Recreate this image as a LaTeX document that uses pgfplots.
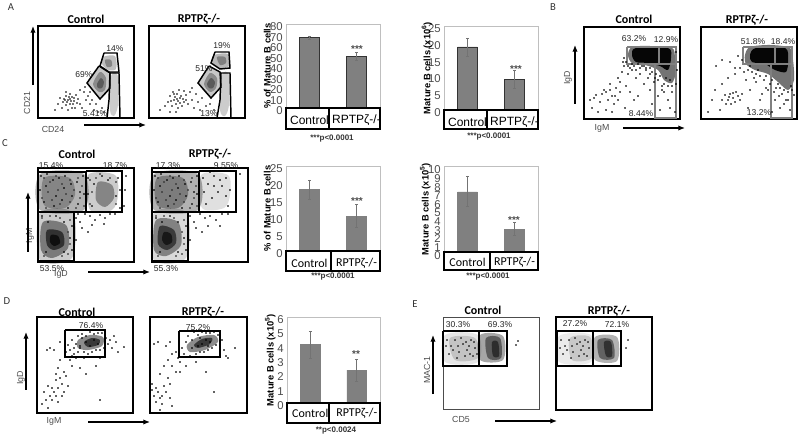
\documentclass[border=0pt]{standalone}
\usepackage{fontspec}
\setmainfont{Liberation Sans}
\newfontfamily\carl{Carlito}
\usepackage{pgfplots}
\pgfplotsset{compat=1.18}
\usetikzlibrary{arrows.meta}
\definecolor{lab}{gray}{0.3}
\definecolor{barc}{gray}{0.5}
% flow panels: axis units are the pixels of the picture
\pgfplotsset{
  facs/.style n args={4}{x=0.75pt,y=0.75pt,at={(#1*0.75pt,-#4*0.75pt)},anchor=south west,
    xmin=#1,xmax=#3,ymin=#2,ymax=#4,y dir=reverse,ticks=none,clip=false},
  dots/.style={only marks,mark=*,mark size=0.38pt,mark options={draw=none,fill=#1},forget plot},
  dots/.default=black,
  blob/.style={fill=black,fill opacity=#1,draw=none,forget plot,/tikz/smooth cycle},
  gate/.style={draw=black,line width=1.1pt,mark=none,forget plot},
  ggate/.style={draw=black!50,line width=0.9pt,mark=none,forget plot},
  barax/.style n args={5}{scale only axis,width={(#3-#1)*0.75pt},height={(#4-#2)*0.75pt},
    at={(#1*0.75pt,-#4*0.75pt)},anchor=south west,xmin=-0.5,xmax=1.5,ymin=0,ymax=#5,
    xtick={0,1},xticklabels={Control,RPTPζ-/-},major tick length=0pt,
    axis line style={black!25,line width=0.6pt},
    /pgf/number format/assume math mode=true,
    yticklabel style={font=\fontsize{8.5}{9}\selectfont,text=lab,yshift=-2pt,xshift=1pt},
    ylabel style={font=\bfseries\fontsize{7}{8}\selectfont,anchor=center}},
  bar/.style={ybar,bar width=14.7pt,fill=barc,draw=#1,
    error bars/.cd,y dir=both,y explicit,error bar style={black!55,line width=0.5pt},
    error mark options={rotate=90,mark size=1pt,black!55}},
}
\begin{document}
\begin{tikzpicture}
\useasboundingbox (0,0) rectangle (600pt,-328.5pt);

% ---- A flow
\begin{axis}[facs={38}{26}{134}{118},axis line style={line width=0.9pt}]
\addplot[dots=black!40] coordinates {(60,98)(63,102)(66,96)(68,100)(70,104)(72,97)(66,105)(62,108)(74,101)(76,95)(78,99)(70,94)(80,104)(84,92)(86,100)(82,108)(75,108)(58,104)(55,110)(90,104)(94,110)(88,96)(66,92)(72,108)(68,110)(64,99)(69,97)(71,101)(67,102)(73,104)(77,103)(92,100)(96,104)(102,108)(104,112)(98,112)(85,87)(80,90)(90,92)(65,100)(70,99)(74,98)};
\addplot[blob=0.22] coordinates {(88,83)(98,68)(109,74)(110,88)(100,98)};
\addplot[blob=0.3] coordinates {(93,84)(100,72)(106,78)(105,90)(99,92)};
\addplot[blob=0.35] coordinates {(97,84)(101,78)(104,82)(102,88)(98,88)};
\addplot[blob=0.25] coordinates {(103,57)(115,56)(116,69)(108,70)(102,64)};
\addplot[blob=0.3] coordinates {(105,60)(111,60)(112,66)(107,67)};
\addplot[blob=0.2] coordinates {(111,76)(118,76)(118,105)(114,116)(110,110)};
\addplot[gate] coordinates {(104,53)(117,53)(119,72)(109,72)(100,66)(104,53)};
\addplot[gate] coordinates {(99,66)(110,73)(110,88)(100,99)(87,83)(99,66)};
\addplot[gate] coordinates {(110,73)(119,73)(120,118)(107,118)(109,100)(110,73)};
\end{axis}
\begin{axis}[facs={149}{26}{245}{118},axis line style={line width=0.9pt}]
\addplot[dots=black!40] coordinates {(170,96)(174,100)(177,94)(180,98)(176,104)(172,106)(184,102)(186,95)(190,92)(168,102)(178,108)(182,106)(188,104)(192,100)(165,106)(160,110)(194,108)(198,102)(200,110)(206,106)(173,92)(179,90)(175,97)(178,101)(181,96)(183,99)(171,101)(186,100)(202,98)(210,104)(214,110)(176,112)(170,112)(174,94)(177,99)(180,103)(184,91)(192,88)(196,94)};
\addplot[blob=0.22] coordinates {(199,83)(209,68)(220,73)(220,87)(211,97)};
\addplot[blob=0.3] coordinates {(204,84)(210,73)(217,78)(216,88)(210,92)};
\addplot[blob=0.35] coordinates {(207,84)(211,78)(215,82)(213,88)(209,88)};
\addplot[blob=0.28] coordinates {(214,55)(228,54)(229,66)(220,68)(212,62)};
\addplot[blob=0.3] coordinates {(217,57)(225,57)(226,63)(220,65)};
\addplot[blob=0.2] coordinates {(222,75)(229,75)(229,105)(225,116)(220,110)};
\addplot[gate] coordinates {(215,52)(229,52)(230,68)(220,69)(211,63)(215,52)};
\addplot[gate] coordinates {(209,66)(220,72)(221,87)(211,98)(198,83)(209,66)};
\addplot[gate] coordinates {(221,73)(230,73)(231,118)(217,118)(220,100)(221,73)};
\end{axis}

% ---- A bars
\begin{axis}[barax={286}{24}{380}{108}{80},ytick={0,10,...,80},
  xticklabel style={font=\fontsize{9}{10}\selectfont,anchor=center,yshift=-9pt},
  ylabel={\% of Mature B cells},ylabel style={at={(axis description cs:-0.2,0.5)}}]
\addplot[bar=black!80] coordinates {(0,67) += (0,1.6) -= (0,1.6) (1,49) += (0,4.3) -= (0,4)};
\end{axis}
\begin{axis}[barax={444}{26}{538}{110}{25},ytick={0,5,...,25},
  xticklabel style={font=\fontsize{9}{10}\selectfont,anchor=center,yshift=-9pt},
  ylabel={Mature B cells (x10\textsuperscript{6})},ylabel style={at={(axis description cs:-0.18,0.5)}}]
\addplot[bar=black!80] coordinates {(0,18.8) += (0,2.5) -= (0,2.9) (1,9.1) += (0,2.6) -= (0,2.6)};
\end{axis}

% ---- B flow
\begin{axis}[facs={584}{27}{680}{119},axis line style={line width=1.3pt}]
\addplot[dots] coordinates {(590,100)(592,108)(596,95)(600,102)(604,90)(606,110)(610,84)(612,96)(614,104)(616,88)(618,78)(620,92)(622,72)(620,82)(624,66)(626,86)(628,74)(630,92)(632,70)(636,78)(634,100)(640,74)(644,84)(646,70)(650,90)(648,78)(608,100)(602,94)(598,112)(612,112)(594,98)(606,92)(610,90)(615,96)(618,100)(625,108)(638,96)(652,104)(660,110)(668,100)(672,92)(664,92)(670,108)(675,112)(658,96)(662,86)(655,78)(650,74)(642,66)(632,64)(626,62)(624,58)(628,66)(634,66)(640,68)(646,68)(652,72)(656,74)(660,76)(664,84)(668,86)(672,86)(676,84)(670,80)(666,78)(677,70)(678,62)(676,52)(638,64)(644,66)(650,68)(623,62)(630,68)(636,70)(658,80)(654,82)(662,90)};
\addplot[blob=0.55] coordinates {(628,55)(632,47)(650,46)(672,48)(675,58)(676,72)(672,83)(664,80)(658,70)(645,65)(632,63)};
\addplot[blob=0.95] coordinates {(632,55)(636,48)(668,48)(671,58)(668,70)(660,66)(648,63)(636,62)};
\addplot[ggate] coordinates {(627,47)(676,47)(676,118)(655,118)(655,64)(627,64)(627,47)};
\addplot[ggate] coordinates {(659,47)(659,64)};
\addplot[ggate] coordinates {(655,64)(676,64)};
\end{axis}
\begin{axis}[facs={701}{27}{797}{119},axis line style={line width=1.3pt}]
\addplot[dots] coordinates {(725,95)(728,100)(730,94)(733,98)(735,102)(738,96)(731,104)(726,104)(722,100)(740,100)(736,92)(742,94)(729,97)(733,93)(712,100)(708,112)(715,90)(720,110)(722,84)(728,78)(735,74)(740,68)(746,80)(750,90)(756,82)(762,94)(768,90)(775,100)(780,108)(772,112)(786,100)(790,110)(794,95)(760,76)(752,72)(742,60)(738,56)(744,72)(750,66)(756,74)(764,80)(770,84)(776,88)(782,94)(788,92)(791,86)(779,96)(784,104)(716,66)(722,60)(730,62)(735,68)(760,100)(748,108)(772,80)(766,76)(758,70)(748,70)(778,84)(784,90)(774,92)(792,90)(788,100)(766,88)(780,88)(754,78)};
\addplot[blob=0.55] coordinates {(745,55)(750,47)(770,45)(790,48)(793,60)(794,80)(788,90)(778,82)(768,74)(755,70)(746,64)};
\addplot[blob=0.95] coordinates {(750,55)(756,48)(785,48)(788,60)(786,72)(775,70)(765,64)(752,62)};
\addplot[ggate] coordinates {(743,47)(792,47)(792,118)(771,118)(771,64)(743,64)(743,47)};
\addplot[ggate] coordinates {(775,47)(775,64)};
\addplot[ggate] coordinates {(771,64)(792,64)};
\end{axis}

% ---- C flow
\begin{axis}[facs={38}{168}{134}{262},axis line style={line width=0.8pt}]
\addplot[blob=0.3] coordinates {(40,174)(84,174)(84,210)(40,210)};
\addplot[blob=0.25] coordinates {(44,178)(70,178)(75,195)(65,208)(44,205)};
\addplot[blob=0.2] coordinates {(88,175)(115,175)(118,195)(112,210)(90,210)};
\addplot[blob=0.35] coordinates {(98,182)(112,185)(114,198)(105,207)(96,200)};
\addplot[blob=0.2] coordinates {(40,213)(73,213)(72,258)(40,260)};
\addplot[blob=0.4] coordinates {(43,222)(66,225)(68,248)(52,258)(41,250)};
\addplot[blob=0.6] coordinates {(47,230)(62,232)(64,245)(54,250)(47,245)};
\addplot[blob=0.7] coordinates {(51,235)(58,236)(60,243)(54,246)(50,242)};
\addplot[dots=white] coordinates {(44,178)(50,182)(56,176)(62,184)(70,180)(78,178)(82,186)(74,190)(66,194)(58,190)(48,192)(42,198)(52,200)(60,204)(70,202)(80,198)(84,206)(76,208)(46,208)(90,180)(96,178)(92,192)(90,204)(110,178)(116,182)(116,204)(100,174)(42,218)(50,216)(60,218)(70,220)(68,232)(70,244)(68,254)(62,256)(44,256)};
\addplot[dots] coordinates {(41,176)(47,174)(53,180)(59,178)(65,176)(71,184)(77,182)(83,176)(80,192)(72,196)(64,188)(56,196)(46,186)(40,190)(44,202)(54,206)(62,200)(68,208)(78,204)(84,194)(88,178)(94,184)(102,176)(108,180)(118,178)(120,190)(116,196)(120,208)(92,206)(88,194)(42,216)(48,222)(56,216)(64,222)(72,226)(70,238)(72,250)(64,252)(46,252)(76,218)(80,222)(85,214)(90,216)(95,220)(100,215)(105,218)(110,214)(82,228)(88,232)(76,240)(92,225)(115,214)(125,190)(126,176)(124,206)(78,214)(104,224)};
\addplot[gate,line width=0.9pt] coordinates {(38,172)(86,172)(86,212)(38,212)(38,172)};
\addplot[gate,line width=0.9pt] coordinates {(86,171)(122,171)(122,212)(86,212)};
\addplot[gate,line width=0.9pt] coordinates {(38,212)(38,261)(74,261)(74,212)};
\end{axis}
\begin{axis}[facs={152}{168}{248}{262},axis line style={line width=0.8pt}]
\addplot[blob=0.3] coordinates {(154,174)(198,174)(198,210)(154,210)};
\addplot[blob=0.3] coordinates {(157,178)(183,178)(188,195)(178,208)(157,205)};
\addplot[blob=0.12] coordinates {(201,175)(228,175)(230,195)(224,208)(202,208)};
\addplot[blob=0.15] coordinates {(154,213)(187,213)(186,258)(154,260)};
\addplot[blob=0.4] coordinates {(156,220)(178,222)(181,245)(166,256)(154,250)};
\addplot[blob=0.55] coordinates {(160,226)(174,230)(176,243)(167,250)(158,244)};
\addplot[blob=0.6] coordinates {(164,232)(171,234)(172,242)(166,245)(162,240)};
\addplot[dots=white] coordinates {(158,178)(164,182)(170,176)(176,184)(184,180)(192,178)(196,186)(188,190)(180,194)(172,190)(162,192)(156,198)(166,200)(174,204)(184,202)(194,198)(197,206)(190,208)(160,208)(156,216)(164,216)(174,218)(184,220)(182,232)(184,244)(182,254)(176,256)(158,256)};
\addplot[dots] coordinates {(155,176)(161,174)(167,180)(173,178)(179,176)(185,184)(191,182)(197,176)(194,192)(186,196)(178,188)(170,196)(160,186)(154,190)(158,202)(168,206)(176,200)(182,208)(192,204)(197,194)(203,178)(208,184)(214,176)(220,180)(226,178)(230,190)(226,196)(228,206)(206,204)(204,192)(212,198)(218,192)(222,186)(214,186)(210,172)(240,174)(156,218)(162,222)(170,216)(178,222)(186,226)(184,238)(186,250)(178,252)(160,252)(190,216)(194,222)(200,214)(205,218)(210,216)(216,220)(222,214)(196,228)(202,232)(190,240)(208,226)(220,226)(228,214)};
\addplot[gate,line width=0.9pt] coordinates {(152,172)(199,172)(199,212)(152,212)(152,172)};
\addplot[gate,line width=0.9pt] coordinates {(199,171)(236,171)(236,212)(199,212)};
\addplot[gate,line width=0.9pt] coordinates {(152,212)(152,261)(188,261)(188,212)};
\end{axis}

% ---- C bars
\begin{axis}[barax={286}{166}{380}{251}{25},ytick={0,5,...,25},
  xticklabel style={font=\carl\fontsize{9}{10}\selectfont,anchor=center,yshift=-9pt},
  ylabel={\% of Mature B cells},ylabel style={at={(axis description cs:-0.2,0.5)}}]
\addplot[bar=barc] coordinates {(0,18.2) += (0,2.7) -= (0,2.9) (1,10.2) += (0,3.6) -= (0,3.2)};
\end{axis}
\begin{axis}[barax={444}{166}{538}{252}{10},ytick={0,1,...,10},
  yticklabel style={yshift=-1pt},
  xticklabel style={font=\carl\fontsize{9}{10}\selectfont,anchor=center,yshift=-8pt},
  ylabel={Mature B cells (x10\textsuperscript{5})},ylabel style={at={(axis description cs:-0.2,0.5)}}]
\addplot[bar=barc] coordinates {(0,7) += (0,1.84) -= (0,1.65) (1,2.67) += (0,0.75) -= (0,0.7)};
\end{axis}

% ---- D flow
\begin{axis}[facs={37}{317}{133}{413},axis line style={line width=0.9pt}]
\addplot[blob=0.45] coordinates {(78,340)(90,335)(103,337)(102,346)(88,350)(78,348)};
\addplot[blob=0.6] coordinates {(84,342)(92,338)(100,340)(98,345)(88,347)};
\addplot[dots] coordinates {(68,345)(70,350)(72,340)(74,354)(76,344)(78,336)(78,352)(80,348)(82,334)(84,352)(86,336)(88,354)(90,332)(92,352)(94,334)(96,350)(98,333)(100,350)(102,333)(104,348)(106,338)(108,344)(110,340)(112,348)(114,336)(116,342)(124,347)(118,352)(72,356)(66,352)(70,360)(76,358)(84,358)(60,360)(50,348)(54,350)(60,342)(47,350)(58,368)(64,372)(72,366)(80,368)(96,366)(86,374)(100,358)(60,378)(56,380)(62,384)(52,388)(48,386)(54,392)(44,392)(50,396)(56,396)(58,388)(52,400)(46,400)(42,404)(48,408)(58,402)(64,392)(68,386)(62,396)(100,400)(66,376)(56,374)(80,346)(86,342)(90,346)(94,340)(98,344)(74,348)(82,338)(92,330)};
\addplot[gate] coordinates {(65,330)(105,330)(105,357)(65,357)(65,330)};
\end{axis}
\begin{axis}[facs={150}{317}{247}{413},axis line style={line width=0.9pt}]
\addplot[blob=0.45] coordinates {(187,345)(198,337)(214,335)(218,342)(205,350)(190,352)};
\addplot[blob=0.6] coordinates {(194,345)(202,339)(212,338)(210,344)(198,348)};
\addplot[dots] coordinates {(182,348)(184,354)(186,342)(188,336)(190,356)(192,340)(194,332)(196,354)(198,335)(200,352)(202,332)(204,352)(206,333)(208,350)(210,333)(212,348)(214,332)(216,345)(218,335)(220,346)(222,340)(224,350)(226,356)(228,358)(235,348)(176,352)(178,358)(180,362)(170,342)(166,346)(158,342)(154,344)(172,354)(168,360)(164,366)(172,366)(176,372)(160,374)(168,378)(180,372)(186,366)(196,362)(206,372)(156,388)(152,390)(158,392)(162,396)(154,396)(160,398)(166,392)(164,386)(156,402)(162,404)(170,398)(172,406)(160,410)(152,384)(170,384)(214,392)(198,346)(202,344)(206,340)(210,342)(192,348)(200,338)(208,346)};
\addplot[gate] coordinates {(179,331)(220,331)(220,357)(179,357)(179,331)};
\end{axis}

% ---- D bars
\begin{axis}[barax={287}{317}{380}{403}{6},ytick={0,1,...,6},
  xticklabel style={font=\carl\fontsize{9}{10}\selectfont,anchor=center,yshift=-8pt},
  ylabel={Mature B cells (x10\textsuperscript{5})},ylabel style={at={(axis description cs:-0.18,0.5)}}]
\addplot[bar=barc] coordinates {(0,4.1) += (0,0.9) -= (0,1) (1,2.3) += (0,0.77) -= (0,0.8)};
\end{axis}

% ---- E flow
\begin{axis}[facs={443}{317}{539}{409},axis line style={black!70,line width=0.6pt}]
\addplot[blob=0.1] coordinates {(445,335)(478,335)(478,362)(445,362)};
\addplot[blob=0.15] coordinates {(450,338)(475,338)(478,358)(455,360)};
\addplot[blob=0.35] coordinates {(480,335)(503,336)(503,360)(480,360)};
\addplot[blob=0.45] coordinates {(486,338)(500,338)(501,358)(488,358)};
\addplot[blob=0.5] coordinates {(492,342)(498,342)(499,356)(493,356)};
\addplot[dots=black!60] coordinates {(447,340)(451,346)(455,340)(459,352)(463,344)(467,350)(471,340)(475,348)(449,354)(457,358)(465,356)(473,356)(453,350)(461,338)(469,346)(477,354)(446,346)(470,354)(466,342)(458,346)(474,342)(518,341)(516,345)};
\addplot[gate] coordinates {(443,331)(479,331)(479,366)(443,366)(443,331)};
\addplot[gate] coordinates {(479,331)(507,331)(507,366)(479,366)};
\end{axis}
\begin{axis}[facs={556}{317}{652}{410},axis line style={line width=1.2pt}]
\addplot[blob=0.08] coordinates {(559,336)(591,335)(591,362)(559,362)};
\addplot[blob=0.15] coordinates {(570,338)(590,337)(592,358)(572,360)};
\addplot[blob=0.3] coordinates {(595,337)(617,337)(617,361)(595,360)};
\addplot[blob=0.45] coordinates {(598,340)(612,340)(614,358)(600,358)};
\addplot[blob=0.5] coordinates {(604,342)(611,342)(612,356)(606,356)};
\addplot[dots=black!60] coordinates {(561,340)(565,346)(569,340)(573,352)(577,344)(581,350)(585,340)(589,348)(563,354)(571,358)(579,356)(587,356)(567,350)(575,338)(583,346)(560,348)(584,354)(580,342)(572,346)(588,342)(628,340)(626,348)};
\addplot[gate] coordinates {(557,331)(593,331)(593,366)(557,366)(557,331)};
\addplot[gate] coordinates {(593,331)(621,331)(621,366)(593,366)};
\end{axis}

% ---- text, category boxes and arrows, in picture pixels
\begin{scope}[x=0.75pt,y=-0.75pt]
\foreach \xa/\ya/\xb/\yb/\xm in {286/108/380/129/329, 444/110/538/129/487, 286/251/380/271/331, 444/252/538/270/490, 287/403/380/423/329}{
  \draw[line width=0.8pt,black] (\xa,\ya) rectangle (\xb,\yb);
  \draw[line width=0.8pt,black] (\xm,\ya) -- (\xm,\yb);
}
\tikzset{ttl/.style={font=\carl\bfseries\fontsize{9}{10}\selectfont,inner sep=0pt},
  pc/.style={font=\fontsize{6.4}{7}\selectfont,text=black!85,inner sep=0pt},
  ax/.style={font=\fontsize{6.6}{7}\selectfont,text=black!70,inner sep=0pt},
  pv/.style={font=\bfseries\fontsize{6}{7}\selectfont,text=black!80,inner sep=0pt},
  st/.style={font=\bfseries\fontsize{7.5}{8}\selectfont,text=black!70,inner sep=0pt},
  let/.style={font=\carl\fontsize{8}{9}\selectfont,text=black!80,inner sep=0pt},
  arr/.style={-{Latex[length=5pt,width=4pt]},line width=0.9pt,black}}
% panel letters
\node[let] at (11,7) {A}; \node[let] at (553,7) {B}; \node[let] at (5,143) {C};
\node[let] at (7,301) {D}; \node[let] at (415,304) {E};
% titles
\foreach \cx/\cy/\rx/\ry in {86/19/199/19, 634/19/747/20, 77/154/210/154, 77/312/203/312, 483/310/609/311}{
  \node[ttl] at (\cx,\cy) {Control};
  \node[ttl] at (\rx,\ry) {RPTPζ-/-};
}
% A labels
\node[pc] at (115,49) {14\%}; \node[pc] at (84,75) {69\%}; \node[pc] at (95,114) {5.41\%};
\node[pc] at (222,46) {19\%}; \node[pc] at (204,69) {51\%}; \node[pc] at (209,114) {13\%};
\node[ax] at (53,129) {CD24}; \node[ax,rotate=90] at (27,103) {CD21};
\draw[arr] (33,85) -- (33,26); \draw[arr] (84,125) -- (146,125);
\node[st] at (357,49) {***}; \node[st] at (516,69) {***};
\node[pv] at (332,139) {***p<0.0001}; \node[pv] at (489,137) {***p<0.0001};
% B labels
\node[pc] at (634,39) {63.2\%}; \node[pc] at (666,40) {12.9\%}; \node[pc] at (641,114) {8.44\%};
\node[pc] at (753,42) {51.8\%}; \node[pc] at (783,42) {18.4\%}; \node[pc] at (759,113) {13.2\%};
\node[ax,rotate=90] at (568,78) {IgD}; \node[ax] at (602,128) {IgM};
\draw[arr] (575,104) -- (575,45); \draw[arr] (623,128) -- (685,128);
% C labels
\node[pc] at (51,166) {15.4\%}; \node[pc] at (115,166) {18.7\%}; \node[pc] at (52,269) {53.5\%};
\node[pc] at (168,166) {17.3\%}; \node[pc] at (226,166) {9.55\%}; \node[pc] at (166,269) {55.3\%};
\node[ax,rotate=90] at (30,236) {IgM}; \node[ax] at (61,274) {IgD};
\draw[arr] (28,252) -- (28,192); \draw[arr] (88,272) -- (150,272);
\node[st] at (357,201) {***}; \node[st] at (514,220) {***};
\node[pv] at (333,277) {***p<0.0001}; \node[pv] at (488,277) {***p<0.0001};
% D labels
\node[pc] at (91,326) {76.4\%}; \node[pc] at (198,328) {75.2\%};
\node[ax,rotate=90] at (21,378) {IgD}; \node[ax] at (54,421) {IgM};
\draw[arr] (26,390) -- (26,332); \draw[arr] (88,422) -- (150,422);
\node[st] at (356,354) {**}; \node[pv] at (336,431) {**p<0.0024};
% E labels
\node[pc] at (458,325) {30.3\%}; \node[pc] at (500,325) {69.3\%};
\node[pc] at (575,324) {27.2\%}; \node[pc] at (617,325) {72.1\%};
\node[ax,rotate=90] at (427,370) {MAC-1}; \node[ax] at (461,419) {CD5};
\draw[arr] (433,394) -- (433,335); \draw[arr] (495,421) -- (557,421);
\end{scope}
\end{tikzpicture}
\end{document}
